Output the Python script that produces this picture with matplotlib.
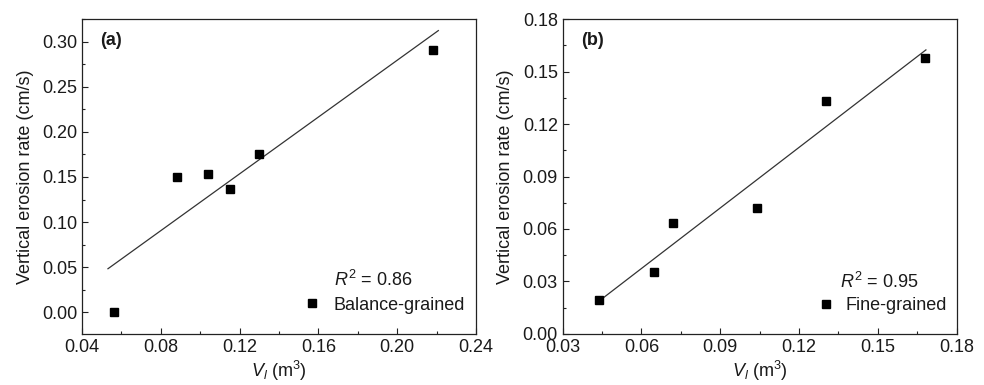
import numpy as np
import matplotlib
matplotlib.use("Agg")
import matplotlib.pyplot as plt
from matplotlib.ticker import AutoMinorLocator

plt.rcParams['font.family'] = ['Liberation Sans', 'DejaVu Sans']
plt.rcParams['mathtext.fontset'] = 'custom'
plt.rcParams['mathtext.rm'] = 'Liberation Sans'
plt.rcParams['mathtext.it'] = 'Liberation Sans:italic'

# Panel (a) data
a_x = [0.0563, 0.0883, 0.1042, 0.115, 0.130, 0.218]
a_y = [0.000, 0.150, 0.1537, 0.137, 0.1759, 0.291]
a_fit_range = [0.0532, 0.2209]
a_label = "Balance-grained"
a_r2 = "0.86"

# Panel (b) data
b_x = [0.044, 0.0649, 0.072, 0.104, 0.1301, 0.168]
b_y = [0.0194, 0.0356, 0.0636, 0.0722, 0.133, 0.158]
b_fit_range = [0.0442, 0.1683]
b_label = "Fine-grained"
b_r2 = "0.95"

a_xticks = [0.04, 0.08, 0.12, 0.16, 0.20, 0.24]
a_yticks = [0.00, 0.05, 0.10, 0.15, 0.20, 0.25, 0.30]
b_xticks = [0.03, 0.06, 0.09, 0.12, 0.15, 0.18]
b_yticks = [0.00, 0.03, 0.06, 0.09, 0.12, 0.15, 0.18]

fig = plt.figure(figsize=(9.84, 3.85), dpi=100)
txt = '#1a1a1a'
fs = 13

def panel(rect, x, y, fr, label, r2, tag, xticks, yticks, xlim, ylim, legpos, r2pos, htp):
    ax = fig.add_axes(rect)
    ax.plot(x, y, 's', color='black', markersize=5.4, label=label, zorder=3)
    k, b = np.polyfit(x, y, 1)
    fx = np.array(fr)
    ax.plot(fx, k * fx + b, '-', color='#333333', lw=0.9, zorder=2)
    ax.set_xlim(*xlim)
    ax.set_ylim(*ylim)
    ax.set_xticks(xticks)
    ax.set_yticks(yticks)
    ax.set_xticklabels([f"{t:.2f}" for t in xticks])
    ax.set_yticklabels([f"{t:.2f}" for t in yticks])
    ax.xaxis.set_minor_locator(AutoMinorLocator(2))
    ax.yaxis.set_minor_locator(AutoMinorLocator(2))
    ax.tick_params(which='both', direction='in', top=False, right=False,
                   labelsize=fs, labelcolor=txt, color='#222222', width=0.8)
    ax.tick_params(which='major', length=4)
    ax.tick_params(which='minor', length=2.5)
    for s in ax.spines.values():
        s.set_linewidth(0.9)
        s.set_color('#222222')
    ax.set_xlabel(r'$\mathit{V_l}$ (m$^{3}$)', fontsize=fs, color=txt, labelpad=2)
    ax.set_ylabel('Vertical erosion rate (cm/s)', fontsize=fs, color=txt, labelpad=6)
    ax.text(0.046, 0.933, tag, transform=ax.transAxes, fontsize=fs,
            fontweight='bold', color=txt, va='center', ha='left')
    ax.text(r2pos[0], r2pos[1], r'$\mathit{R}^{2}$ = ' + r2, transform=ax.transAxes,
            fontsize=fs, color=txt, va='center', ha='left')
    ax.legend(loc='center left', bbox_to_anchor=legpos, frameon=False,
              fontsize=fs, handlelength=1.0, handletextpad=htp,
              borderpad=0, borderaxespad=0, labelcolor=txt)
    return ax

panel([0.0833, 0.1325, 0.4004, 0.8181], a_x, a_y, a_fit_range, a_label, a_r2, '(a)',
      a_xticks, a_yticks, (0.04, 0.24), (-0.024, 0.325), (0.561, 0.092),
      (0.64, 0.171), 0.67)
panel([0.5718, 0.1325, 0.4004, 0.8181], b_x, b_y, b_fit_range, b_label, b_r2, '(b)',
      b_xticks, b_yticks, (0.03, 0.18), (0.0, 0.18), (0.645, 0.089),
      (0.704, 0.165), 0.57)

fig.savefig('out.png', dpi=100)
